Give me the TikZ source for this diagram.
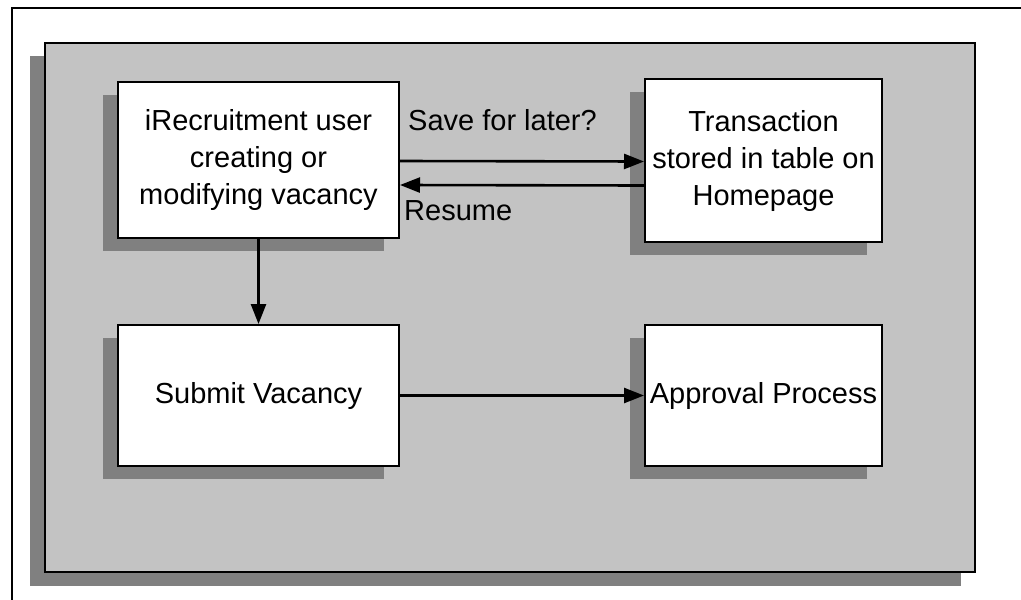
\documentclass[tikz,border=0pt]{standalone}
\usepackage{fontspec}
\setmainfont{Liberation Sans}
\usetikzlibrary{arrows.meta,shadows}
\definecolor{panelgray}{HTML}{C3C3C3}
\definecolor{shadowgray}{HTML}{808080}
\begin{document}
\begin{tikzpicture}[x=1pt,y=-1pt,
  font=\fontsize{29}{37}\selectfont,
  flowbox/.style={draw=black, line width=2pt, fill=white, align=center, inner sep=0pt,
    drop shadow={shadow xshift=-15pt, shadow yshift=-13pt, opacity=1, fill=shadowgray}},
  flowarrow/.style={line width=2.6pt, -{Triangle[length=20pt,width=15pt]}},
  flowlabel/.style={inner sep=0pt, anchor=base west}]
\useasboundingbox (0,0) rectangle (1021,600);
\draw[line width=1.5pt] (12,8) rectangle (1040,620);
\fill[shadowgray] (30,56) rectangle (961,586);
\draw[fill=panelgray, line width=2pt] (45,43) rectangle (975,572);

\node[flowbox, minimum width=281pt, minimum height=156pt] (user) at (258.5,160)
  {iRecruitment user\\creating or\\modifying vacancy};
\node[flowbox, minimum width=237pt, minimum height=163pt] (store) at (763.5,160.5)
  {Transaction\\stored in table on\\Homepage};
\node[flowbox, minimum width=281pt, minimum height=141pt] (submit) at (258.5,395.5)
  {Submit Vacancy};
\node[flowbox, minimum width=237pt, minimum height=141pt] (approve) at (763.5,395.5)
  {Approval Process};

\draw[flowarrow] ([yshift=-1pt]user.east) -- ([yshift=-1pt]store.west);
\draw[flowarrow] ([yshift=-25pt]store.west) -- ([yshift=-25pt]user.east);
\draw[flowarrow] (user.south) -- (submit.north);
\draw[flowarrow] (submit.east) -- (approve.west);

\node[flowlabel] (savelbl) at (408,130) {Save for later?};
\node[flowlabel] (resumelbl) at (404,220) {Resume};
\end{tikzpicture}
\end{document}
